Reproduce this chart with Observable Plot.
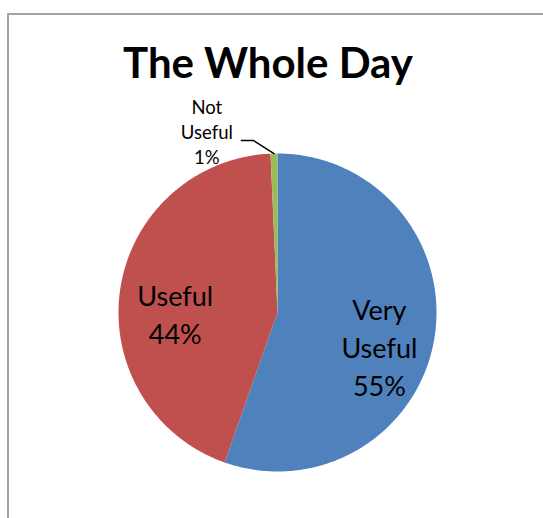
<!DOCTYPE html>
<html>
<head>
<meta charset="utf-8">
<script src="https://cdn.jsdelivr.net/npm/d3@7"></script>
<script src="https://cdn.jsdelivr.net/npm/@observablehq/plot@0.6"></script>
<style>
  html, body { margin: 0; padding: 0; background: #fff; overflow: hidden; }
  #wrap { position: relative; width: 543px; height: 518px; }
  #frame { position: absolute; left: 7px; top: 13px; width: 700px; height: 700px;
           border: 2px solid #a3a3a3; box-sizing: border-box; }
  #chart { position: absolute; left: 0; top: 0; }
</style>
</head>
<body>
<div id="wrap"><div id="frame"></div><div id="chart"></div></div>
<script>
const title = "The Whole Day";
const categories = ["Very Useful", "Useful", "Not Useful"];
const values = [55.4, 43.9, 0.7];
const colors = ["#4F81BD", "#C0504D", "#9BBB59"];

const total = d3.sum(values);
// Build slice polygons (clockwise from 12 o'clock)
const slices = [];
let acc = 0;
values.forEach((v, i) => {
  const a0 = acc / total * 2 * Math.PI;
  acc += v;
  const a1 = acc / total * 2 * Math.PI;
  slices.push({name: categories[i], value: v, a0, a1, mid: (a0 + a1) / 2});
});
const polyPts = [];
for (const s of slices) {
  polyPts.push({name: s.name, x: 0, y: 0});
  const n = Math.max(2, Math.ceil((s.a1 - s.a0) / (Math.PI / 360)));
  for (let k = 0; k <= n; k++) {
    const a = s.a0 + (s.a1 - s.a0) * k / n;
    polyPts.push({name: s.name, x: Math.sin(a), y: Math.cos(a)});
  }
  polyPts.push({name: s.name, x: 0, y: 0});
}

const labelText = s => s.name.replace(" ", "\n") + "\n" + Math.round(s.value / total * 100) + "%";
const big = slices.filter(s => s.value / total >= 0.05).map(s => ({
  text: labelText(s), x: 0.65 * Math.sin(s.mid), y: 0.65 * Math.cos(s.mid)
}));
const small = slices.filter(s => s.value / total < 0.05);
const smallLabels = small.map(s => ({text: labelText(s), x: 1.12 * Math.sin(s.mid) - 0.42, y: 1.14}));
const leader = small.flatMap(s => {
  const p0 = {x: Math.sin(s.mid), y: Math.cos(s.mid)};
  const p1 = {x: p0.x - 0.13, y: 1.082};
  const p2 = {x: p1.x - 0.075, y: 1.082};
  return [p0, p1, p2].map(p => ({...p, name: s.name}));
});

const cx = 277, cy = 312, r = 159;
const font = "Lato, 'Open Sans', sans-serif";

const chart = Plot.plot({
  width: 543,
  height: 518,
  margin: 0,
  style: {fontFamily: font, background: "transparent"},
  x: {domain: [-1, 1], range: [cx - r, cx + r], axis: null},
  y: {domain: [-1, 1], range: [cy + r, cy - r], axis: null},
  color: {domain: categories, range: colors},
  marks: [
    Plot.line(polyPts, {x: "x", y: "y", z: "name", fill: "name", stroke: null, curve: "linear"}),
    Plot.line(leader, {x: "x", y: "y", z: "name", stroke: "#000", strokeWidth: 1.5}),
    Plot.text(big, {x: "x", y: "y", text: "text", fontSize: 27, lineHeight: 1.41,
      fill: "#000", textAnchor: "middle", lineAnchor: "middle", dy: 16}),
    Plot.text(smallLabels, {x: "x", y: "y", text: "text", fontSize: 18.5, lineHeight: 1.36,
      fill: "#000", textAnchor: "middle", lineAnchor: "middle"}),
    Plot.text([title], {text: d => d, frameAnchor: "top", dx: -4, dy: 64, fontSize: 42,
      fontWeight: "bold", fill: "#000", lineAnchor: "middle"})
  ]
});
document.getElementById("chart").appendChild(chart);
</script>
</body>
</html>
